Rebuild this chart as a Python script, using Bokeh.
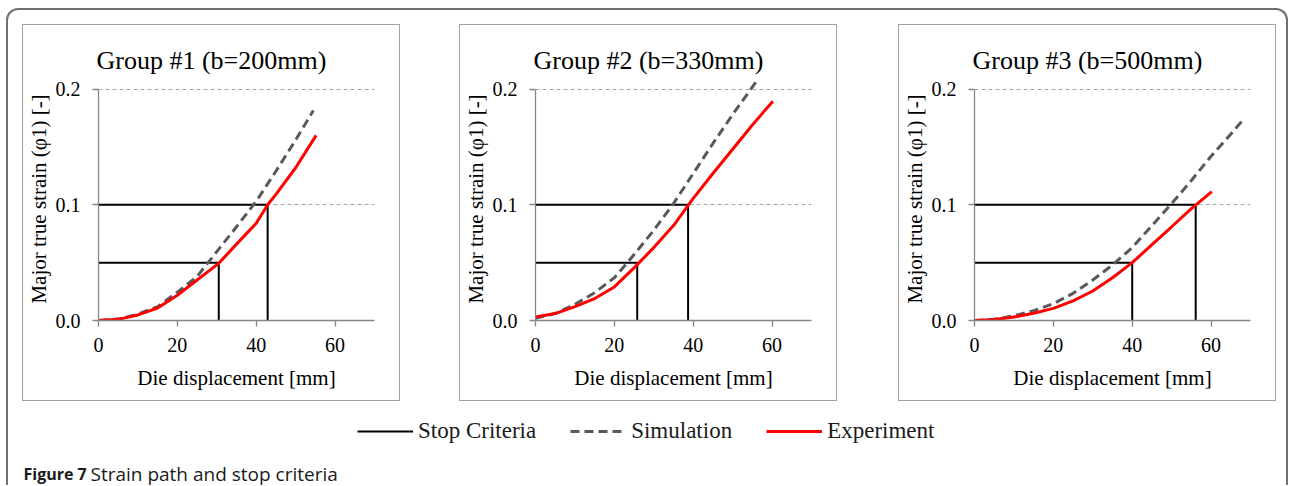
from bokeh.plotting import figure
from bokeh.layouts import row, column
from bokeh.models import (FixedTicker, PrintfTickFormatter, Range1d, Legend,
                          LegendItem, Label, Spacer)
from bokeh.embed import file_html
from bokeh.resources import INLINE

# ---------------- data ----------------
titles = ["Group #1 (b=200mm)", "Group #2 (b=330mm)", "Group #3 (b=500mm)"]
x_label = "Die displacement [mm]"
y_label = "Major true strain (φ1) [-]"
x_ticks = [0, 20, 40, 60]
y_ticks = [0.0, 0.1, 0.2]
legend_labels = ["Stop Criteria", "Simulation", "Experiment"]
caption_bold = "Figure 7"
caption_text = "Strain path and stop criteria"

stop_levels = [0.05, 0.1]

# Group #1
sim1_x = [0, 5, 10, 15, 20, 25, 30, 35, 40, 45, 50, 54.5]
sim1_y = [0, 0.0012, 0.0055, 0.012, 0.0245, 0.038, 0.0595, 0.081, 0.103, 0.129, 0.156, 0.1815]
exp1_x = [0, 5, 10, 15, 20, 25, 30.5, 35, 40, 42.9, 45, 50, 55.2]
exp1_y = [0, 0.001, 0.0048, 0.0108, 0.0218, 0.035, 0.0494, 0.066, 0.084, 0.1, 0.109, 0.132, 0.16]
stop1_x = [30.5, 42.9]

# Group #2
sim2_x = [0, 5, 10, 15, 20, 23.3, 25, 30, 35, 40, 45, 50, 55.9]
sim2_y = [0.002, 0.006, 0.014, 0.024, 0.037, 0.05, 0.057, 0.078, 0.101, 0.127, 0.153, 0.178, 0.206]
exp2_x = [0, 5, 10, 15, 20, 25, 30, 35, 40, 45, 50, 55, 60.2]
exp2_y = [0.003, 0.006, 0.012, 0.019, 0.029, 0.0455, 0.063, 0.082, 0.1055, 0.127, 0.148, 0.169, 0.1895]
stop2_x = [25.8, 38.7]

# Group #3
sim3_x = [0, 5, 10, 15, 20, 25, 30, 35, 40, 45, 50, 55, 60, 65, 68]
sim3_y = [0, 0.001, 0.004, 0.0085, 0.0145, 0.0235, 0.035, 0.048, 0.063, 0.082, 0.101, 0.121, 0.142, 0.161, 0.173]
exp3_x = [0, 5, 10, 15, 20, 25, 30, 35, 40, 45, 50, 55, 60.2]
exp3_y = [0, 0.0008, 0.003, 0.0062, 0.0105, 0.017, 0.0255, 0.037, 0.05, 0.0655, 0.081, 0.0967, 0.1113]
stop3_x = [40.0, 56.1]

SERIF = "Liberation Serif"
AXIS_GREY = "#868686"
SIM_COLOR = "#595959"
EXP_COLOR = "#ff0000"
SIM_DASH = "9 5"


def panel(title, sim_x, sim_y, exp_x, exp_y, stop_x):
    p = figure(width=378, height=377, x_range=Range1d(0, 70), y_range=Range1d(0, 0.21),
               output_backend="svg", toolbar_location=None,
               min_border_left=74, min_border_right=27, min_border_top=52,
               min_border_bottom=82,
               styles={"border": "1px solid #a3a3a3", "box-sizing": "border-box"})
    p.title.text = title
    p.title.align = "left"
    p.title.offset = -2
    p.title.text_font = SERIF
    p.title.text_font_size = "26px"
    p.title.text_font_style = "normal"
    p.title.text_color = "black"
    p.title.standoff = 5
    p.outline_line_color = None
    p.background_fill_color = "white"
    p.border_fill_color = "white"

    p.xgrid.visible = False
    p.ygrid.ticker = FixedTicker(ticks=y_ticks[1:])
    p.ygrid.grid_line_color = "#a6a6a6"
    p.ygrid.grid_line_dash = "4 3"
    p.ygrid.grid_line_width = 1

    p.xaxis.ticker = FixedTicker(ticks=x_ticks)
    p.yaxis.ticker = FixedTicker(ticks=y_ticks)
    p.yaxis.formatter = PrintfTickFormatter(format="%.1f")
    p.yaxis.bounds = (y_ticks[0], y_ticks[-1])
    p.xaxis.axis_label = x_label
    p.yaxis.axis_label = y_label
    for ax in (p.xaxis[0], p.yaxis[0]):
        ax.axis_line_color = AXIS_GREY
        ax.axis_line_width = 1.3
        ax.major_tick_line_color = AXIS_GREY
        ax.major_tick_line_width = 1.3
        ax.major_tick_in = 0
        ax.major_tick_out = 6
        ax.minor_tick_line_color = None
        ax.major_label_text_font = SERIF
        ax.major_label_text_font_size = "20px"
        ax.major_label_text_color = "black"
        ax.axis_label_text_font = SERIF
        ax.axis_label_text_font_size = "21px"
        ax.axis_label_text_font_style = "normal"
        ax.axis_label_text_color = "black"
    p.yaxis.major_label_standoff = 12
    p.yaxis.axis_label_standoff = 2
    p.xaxis.major_label_standoff = 11
    p.xaxis.axis_label_standoff = 11

    p.multi_line(xs=[[0, sx, sx] for sx in stop_x],
                 ys=[[lv, lv, 0] for lv in stop_levels],
                 line_color="black", line_width=2)
    p.line(sim_x, sim_y, line_color=SIM_COLOR, line_width=3, line_dash=SIM_DASH)
    p.line(exp_x, exp_y, line_color=EXP_COLOR, line_width=3)
    return p


p1 = panel(titles[0], sim1_x, sim1_y, exp1_x, exp1_y, stop1_x)
p2 = panel(titles[1], sim2_x, sim2_y, exp2_x, exp2_y, stop2_x)
p3 = panel(titles[2], sim3_x, sim3_y, exp3_x, exp3_y, stop3_x)

# legend + caption strip (its y range lies outside the data, so the series
# drawn here only feed the legend keys)
lf = figure(width=1278, height=84, x_range=Range1d(0, 1), y_range=Range1d(-2, -1),
            x_axis_type=None, y_axis_type=None, output_backend="svg",
            toolbar_location=None, min_border=0)
lf.outline_line_color = None
r_stop = lf.multi_line(xs=[[0, sx, sx] for sx in stop1_x],
                       ys=[[lv, lv, 0] for lv in stop_levels],
                       line_color="black", line_width=2)
r_sim = lf.line(sim1_x, sim1_y, line_color=SIM_COLOR, line_width=3, line_dash=SIM_DASH)
r_exp = lf.line(exp1_x, exp1_y, line_color=EXP_COLOR, line_width=3)
legend = Legend(items=[LegendItem(label=legend_labels[0], renderers=[r_stop]),
                       LegendItem(label=legend_labels[1], renderers=[r_sim]),
                       LegendItem(label=legend_labels[2], renderers=[r_exp])],
                orientation="horizontal", location=(349, 41),
                glyph_width=56, glyph_height=20, label_standoff=5, spacing=34,
                padding=0, margin=0, border_line_color=None,
                background_fill_alpha=0,
                label_text_font=SERIF, label_text_font_size="23px",
                label_text_color="#1a1a1a")
lf.add_layout(legend, "center")
lf.add_layout(Label(x=15, y=12, x_units="screen", y_units="screen", text=caption_bold,
                    text_font="Open Sans", text_font_style="bold",
                    text_font_size="16px", text_color="#1a1a1a",
                    text_baseline="alphabetic"))
lf.add_layout(Label(x=82, y=12, x_units="screen", y_units="screen", text=caption_text,
                    text_font="Open Sans", text_font_style="normal",
                    text_font_size="19px", text_color="#1a1a1a",
                    text_baseline="alphabetic"))

panels_row = row(Spacer(width=14), p1, Spacer(width=59), p2, Spacer(width=61), p3,
                 Spacer(width=10))
layout = column(Spacer(height=14), panels_row, lf,
                margin=(8, 0, 0, 6),
                styles={"box-sizing": "content-box",
                        "border-top": "2px solid #707070",
                        "border-left": "2px solid #707070",
                        "border-right": "2px solid #707070",
                        "border-radius": "12px 12px 0 0",
                        "background-color": "white"})

open("out.html", "w").write(file_html(layout, INLINE))
